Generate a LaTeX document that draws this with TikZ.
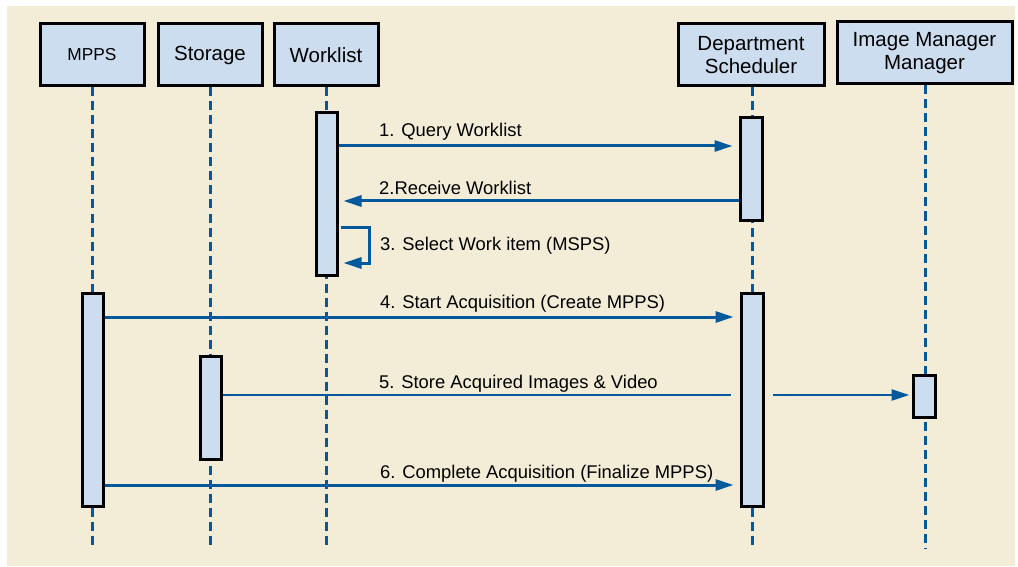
\documentclass[tikz,border=0pt]{standalone}
\usepackage{fontspec}
\setmainfont{Liberation Sans}
\usetikzlibrary{arrows.meta,calc}
\definecolor{bgbeige}{HTML}{F3EDD7}
\definecolor{boxblue}{HTML}{CCDDEF}
\definecolor{lineblue}{HTML}{03599C}
\begin{document}
\begin{tikzpicture}[x=1pt,y=-1pt,
  header/.style={draw=black,line width=3pt,fill=boxblue,minimum height=62pt,inner sep=2pt,align=center,font=\fontsize{20.5}{23}\selectfont},
  actbox/.style={draw=black,line width=3pt,fill=boxblue,minimum width=21pt,inner sep=0pt},
  life/.style={draw=lineblue,line width=3pt,dash pattern=on 9pt off 5pt},
  msg/.style={draw=lineblue,line width=3pt,-{Triangle[length=18pt,width=11pt]}},
  msgthin/.style={draw=lineblue,line width=2.4pt},
  lbl/.style={anchor=base west,inner sep=0pt,font=\fontsize{18.4}{20}\selectfont}]
\useasboundingbox (0,0) rectangle (1018,567);
\fill[white] (0,0) rectangle (1018,567);
\fill[bgbeige] (7,6) rectangle (1015,566);
% headers
\node[header,minimum width=104pt,font=\fontsize{17.3}{20}\selectfont] (mpps) at (92,55) {MPPS};
\node[header,minimum width=104pt] (stor) at (210,55) {Storage};
\node[header,minimum width=104pt] (wl) at (326,55) {Worklist};
\node[header,minimum width=146pt] (ds) at (751,55) {Department\\Scheduler};
\node[header,minimum width=175pt] (im) at (924.5,53) {Image Manager\\Manager};
% lifeline ends
\coordinate (mppsend) at (92,548);
\coordinate (storend) at (210,548);
\coordinate (wlend) at (326,548);
\coordinate (dsend) at (752,548);
\coordinate (imend) at (925,548);
\draw[life] (mpps.south -| mppsend) -- (mppsend);
\draw[life] (stor.south -| storend) -- (storend);
\draw[life] (wl.south -| wlend) -- (wlend);
\draw[life] (ds.south -| dsend) -- (dsend);
\draw[life] (im.south -| imend) -- (imend);
% activation boxes
\node[actbox,minimum height=162pt] (wlact) at (326.5,194) {};
\node[actbox,minimum width=22pt,minimum height=102pt] (dsact1) at (751,169) {};
\node[actbox,minimum height=213pt] (mppsact) at (92.5,399.5) {};
\node[actbox,minimum height=103pt] (storact) at (210.5,407.5) {};
\node[actbox,minimum width=22pt,minimum height=213pt] (dsact2) at (752,399.5) {};
\node[actbox,minimum width=22pt,minimum height=42pt] (imact) at (924,396) {};
% messages
\draw[msg,shorten >=6pt] (wlact.east |- 0,146) -- (dsact1.west |- 0,146);
\node[lbl] (l1) at (379,137) {1. Query Worklist};
\draw[msg,shorten >=5pt] (dsact1.west |- 0,201) -- (wlact.east |- 0,201);
\node[lbl] (l2) at (379,194) {2.Receive Worklist};
\coordinate (selfc) at (369,227);
\draw[msg,shorten >=5pt] ($(wlact.east |- 0,227)+(2,0)$) -- (selfc) -- (selfc |- 0,263) -- (wlact.east |- 0,263);
\node[lbl] (l3) at (380,251) {3. Select Work item (MSPS)};
\draw[msg,shorten >=6pt] (mppsact.east |- 0,317) -- (dsact2.west |- 0,317);
\node[lbl] (l4) at (380,308) {4. Start Acquisition (Create MPPS)};
\draw[msgthin,shorten >=9pt] (storact.east |- 0,395) -- (dsact2.west |- 0,395);
\draw[msgthin,-{Triangle[length=18pt,width=11pt]},shorten >=2pt] ($(dsact2.east |- 0,395)+(8,0)$) -- (imact.west |- 0,395);
\node[lbl] (l5) at (379,388) {5. Store Acquired Images \& Video};
\draw[msg,shorten >=6pt] (mppsact.east |- 0,485) -- (dsact2.west |- 0,485);
\node[lbl] (l6) at (380,478) {6. Complete Acquisition (Finalize MPPS)};
\end{tikzpicture}
\end{document}
